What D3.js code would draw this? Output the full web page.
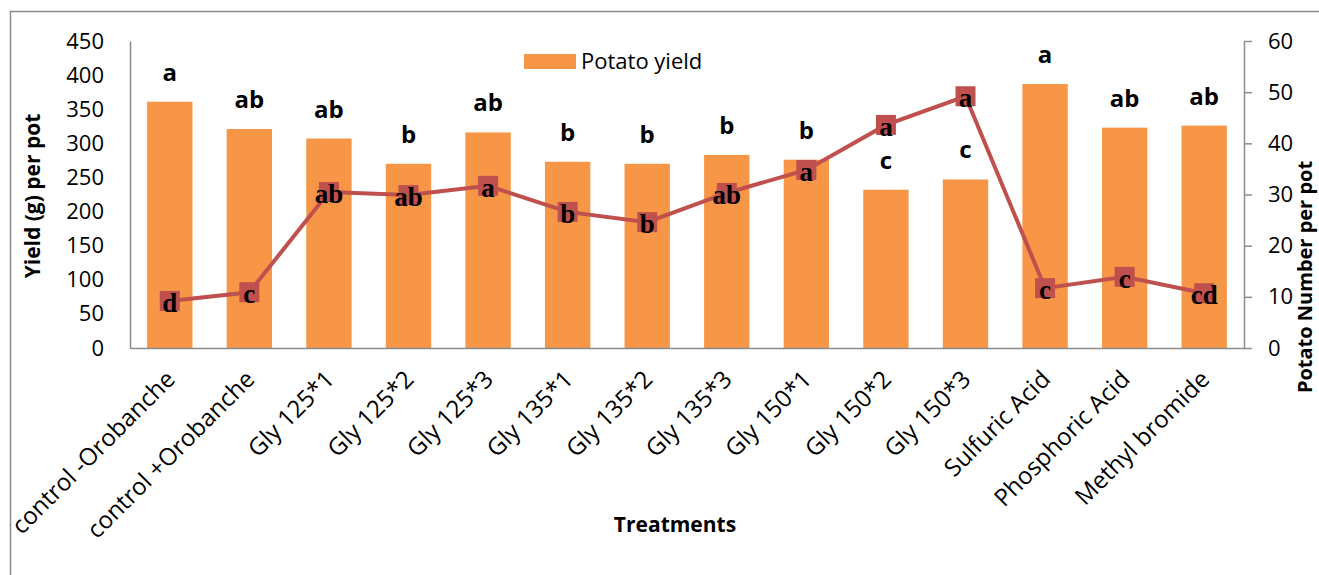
<!DOCTYPE html>
<html><head><meta charset="utf-8">
<script src="https://cdn.jsdelivr.net/npm/d3@7"></script>
<style>body{margin:0;background:#fff}svg{display:block}</style>
</head><body>
<script>
const categories = ["control -Orobanche","control +Orobanche","Gly 125*1","Gly 125*2","Gly 125*3","Gly 135*1","Gly 135*2","Gly 135*3","Gly 150*1","Gly 150*2","Gly 150*3","Sulfuric Acid","Phosphoric Acid","Methyl bromide"];
const yieldValues = [361,321,307,270,316,273,270,283,276,232,247,387,323,326];
const numberValues = [9.2,10.9,30.5,29.9,31.7,26.6,24.6,30.3,34.8,43.6,49.2,11.7,13.9,10.7];
const yieldLetters = ["a","ab","ab","b","ab","b","b","b","b","c","c","a","ab","ab"];
const numberLetters = ["d","c","ab","ab","a","b","b","ab","a","a","a","c","c","cd"];
const leftTicks = [0,50,100,150,200,250,300,350,400,450];
const rightTicks = [0,10,20,30,40,50,60];

const W=1319,H=575;
const font="'Open Sans', sans-serif";
const svg=d3.select("body").append("svg").attr("width",W).attr("height",H);
svg.append("rect").attr("x",10.5).attr("y",11.5).attr("width",W).attr("height",H).attr("fill","none").attr("stroke","#8c8c8c").attr("stroke-width",1.5);

const L=130,R=1244,T=41,B=348;
const x=d3.scaleBand().domain(categories).range([L,R]).paddingInner(0.43).paddingOuter(0.215);
const y=d3.scaleLinear().domain([0,450]).range([B,T]);
const y2=d3.scaleLinear().domain([0,60]).range([B,T]);

// bars
svg.append("g").selectAll("rect").data(categories).join("rect")
  .attr("x",d=>x(d)).attr("width",x.bandwidth())
  .attr("y",(d,i)=>y(yieldValues[i])).attr("height",(d,i)=>B-y(yieldValues[i]))
  .attr("fill","#F79646");

// left axis
const gl=svg.append("g").attr("transform",`translate(${L},0)`)
  .call(d3.axisLeft(y).tickValues(leftTicks).tickSize(0).tickPadding(26));
gl.select(".domain").attr("stroke","#8c8c8c").attr("stroke-width",1.5);
gl.selectAll("text").attr("font-family",font).attr("font-size",22).attr("fill","#000");

// right axis
const gr=svg.append("g").attr("transform",`translate(${R},0)`)
  .call(d3.axisRight(y2).tickValues(rightTicks).tickSize(8).tickSizeOuter(0).tickPadding(16));
gr.select(".domain").attr("stroke","#8c8c8c").attr("stroke-width",1.5);
gr.selectAll(".tick line").attr("stroke","#8c8c8c").attr("stroke-width",1.5);
gr.selectAll("text").attr("font-family",font).attr("font-size",22).attr("fill","#000");

// x axis
const gx=svg.append("g").attr("transform",`translate(0,${B})`)
  .call(d3.axisBottom(x).tickSize(0).tickPadding(0));
gx.select(".domain").attr("stroke","#8c8c8c").attr("stroke-width",1.5);
gx.selectAll("text").attr("font-family",font).attr("font-size",24).attr("fill","#000")
  .attr("text-anchor","end").attr("dy",0).attr("x",0).attr("y",0)
  .attr("dominant-baseline","hanging")
  .attr("transform",`translate(-8,18) rotate(-45)`);

// bar letters
svg.append("g").selectAll("text").data(categories).join("text")
  .attr("x",d=>x(d)+x.bandwidth()/2).attr("y",(d,i)=>y(yieldValues[i])-21)
  .attr("text-anchor","middle").attr("font-family",font).attr("font-weight","bold").attr("font-size",24)
  .text((d,i)=>yieldLetters[i]);

// line
const line=d3.line().x((d,i)=>x(categories[i])+x.bandwidth()/2).y(d=>y2(d));
svg.append("path").datum(numberValues).attr("d",line).attr("fill","none").attr("stroke","#C0504D").attr("stroke-width",4);
svg.append("g").selectAll("rect").data(numberValues).join("rect")
  .attr("x",(d,i)=>x(categories[i])+x.bandwidth()/2-10).attr("y",d=>y2(d)-10)
  .attr("width",20).attr("height",20).attr("fill","#C0504D");
svg.append("g").selectAll("text").data(numberValues).join("text")
  .attr("x",(d,i)=>x(categories[i])+x.bandwidth()/2).attr("y",d=>y2(d)+11)
  .attr("text-anchor","middle").attr("font-family","'Liberation Serif', serif").attr("font-weight","bold").attr("font-size",27)
  .text((d,i)=>numberLetters[i]);

// legend
svg.append("rect").attr("x",524).attr("y",54).attr("width",52).attr("height",15).attr("fill","#F79646");
svg.append("text").attr("x",581).attr("y",69).attr("font-family",font).attr("font-size",22).text("Potato yield");

// titles
svg.append("text").attr("transform","translate(40,196) rotate(-90)").attr("text-anchor","middle")
  .attr("font-family",font).attr("font-weight","bold").attr("font-size",21).text("Yield (g) per pot");
svg.append("text").attr("transform","translate(1312,277) rotate(-90)").attr("text-anchor","middle")
  .attr("font-family",font).attr("font-weight","bold").attr("font-size",20).text("Potato Number per pot");
svg.append("text").attr("x",675).attr("y",532).attr("text-anchor","middle")
  .attr("font-family",font).attr("font-weight","bold").attr("font-size",21).text("Treatments");
</script>
</body></html>
